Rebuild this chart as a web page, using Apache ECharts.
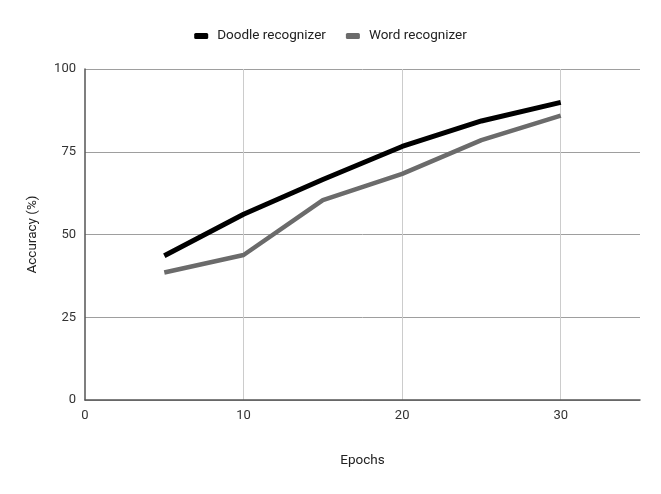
<!DOCTYPE html>
<html>
<head>
<meta charset="utf-8">
<script src="https://cdn.jsdelivr.net/npm/echarts@6/dist/echarts.min.js"></script>
<style>html,body{margin:0;padding:0;background:#fff}#c{width:661px;height:494px}</style>
</head>
<body>
<div id="c"></div>
<script>
const epochs = [5, 10, 15, 20, 25, 30];
const doodle = [43.6, 56.1, 66.6, 76.6, 84.3, 89.9];
const word = [38.5, 43.8, 60.4, 68.3, 78.5, 85.9];
const seriesNames = ['Doodle recognizer', 'Word recognizer'];

const font = 'Roboto, "Liberation Sans", Arial, sans-serif';
const chart = echarts.init(document.getElementById('c'), null, {renderer: 'canvas'});
chart.setOption({
  animation: false,
  textStyle: {fontFamily: font},
  legend: {
    top: 24, left: 'center',
    itemWidth: 14, itemHeight: 6, itemGap: 20,
    icon: 'roundRect',
    textStyle: {fontSize: 13.5, color: '#222', fontFamily: font, padding: [0, 0, 0, 4]},
    data: seriesNames
  },
  grid: {left: 85, right: 21, top: 69, bottom: 94, containLabel: false},
  xAxis: {
    type: 'value', min: 0, max: 35, interval: 10,
    name: 'Epochs', nameLocation: 'middle', nameGap: 54,
    nameTextStyle: {fontSize: 13.5, color: '#222', fontFamily: font},
    axisLine: {show: true, lineStyle: {color: '#555', width: 1.5}},
    axisTick: {show: false},
    axisLabel: {fontSize: 13, color: '#333', margin: 9, showMaxLabel: false, fontFamily: font},
    splitLine: {show: true, showMinLine: false, showMaxLine: false, lineStyle: {color: '#cccccc', width: 1}}
  },
  yAxis: {
    type: 'value', min: 0, max: 100, interval: 25,
    name: 'Accuracy (%)', nameLocation: 'middle', nameGap: 45, nameRotate: 90,
    nameTextStyle: {fontSize: 13.5, color: '#222', fontFamily: font},
    axisLine: {show: true, lineStyle: {color: '#555', width: 1.5}},
    axisTick: {show: false},
    axisLabel: {fontSize: 13, color: '#333', margin: 9, fontFamily: font},
    splitLine: {show: true, lineStyle: {color: '#9e9e9e', width: 1}}
  },
  series: [
    {
      name: seriesNames[0], type: 'line', showSymbol: false, symbol: 'none',
      data: epochs.map((e, i) => [e, doodle[i]]),
      lineStyle: {color: '#000', width: 5},
      itemStyle: {color: '#000'}, z: 3
    },
    {
      name: seriesNames[1], type: 'line', showSymbol: false, symbol: 'none',
      data: epochs.map((e, i) => [e, word[i]]),
      lineStyle: {color: '#6b6b6b', width: 4.5},
      itemStyle: {color: '#6b6b6b'}, z: 2
    }
  ]
});
</script>
</body>
</html>
